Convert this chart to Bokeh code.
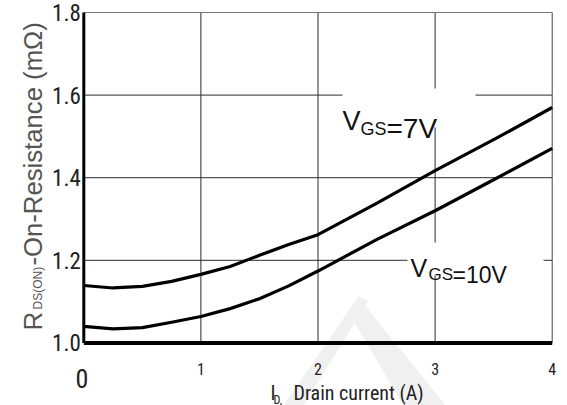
import math

from bokeh.plotting import figure
from bokeh.models import Range1d, Label, BoxAnnotation
from bokeh.core.properties import value
from bokeh.embed import file_html
from bokeh.resources import INLINE

# Drain current (A) and on-resistance (mOhm) for two gate voltages
drain_current = [0.0, 0.25, 0.5, 0.75, 1.0, 1.25, 1.5, 1.75, 2.0, 2.5, 3.0, 3.5, 4.0]
rds_vgs7 = [1.139, 1.133, 1.137, 1.149, 1.166, 1.185, 1.212, 1.238, 1.262, 1.338, 1.417, 1.492, 1.570]
rds_vgs10 = [1.040, 1.034, 1.037, 1.050, 1.064, 1.083, 1.107, 1.138, 1.174, 1.250, 1.320, 1.395, 1.471]

x_ticks = [0, 1, 2, 3, 4]
x_tick_labels = ["0", "1", "2", "3", "4"]
y_ticks = [1.0, 1.2, 1.4, 1.6, 1.8]
y_tick_labels = ["1.0", "1.2", "1.4", "1.6", "1.8"]

W, H = 567, 405
X_MIN, X_MAX, Y_MIN, Y_MAX = 0.0, 4.0, 1.0, 1.8
# where the data box sits on the page (pixels)
BOX_L, BOX_R, BOX_T, BOX_B = 83.3, 551.7, 12.0, 342.4
SX = (BOX_R - BOX_L) / (X_MAX - X_MIN)
SY = (BOX_B - BOX_T) / (Y_MAX - Y_MIN)

SANS = "Liberation Sans"
NARROW = "Liberation Sans Narrow, Roboto Condensed, DejaVu Sans Condensed, Liberation Sans, sans-serif"


def xd(px):
    """Page x pixel -> data x."""
    return X_MIN + (px - BOX_L) / SX


def yd(py):
    """Page y pixel -> data y."""
    return Y_MIN + (BOX_B - py) / SY


# the frame covers the whole page so the titles around the box can be drawn freely
p = figure(width=W, height=H, output_backend="svg", toolbar_location=None,
           x_range=Range1d(xd(0), xd(W)), y_range=Range1d(yd(H), yd(0)),
           x_axis_location=None, y_axis_location=None,
           min_border_left=0, min_border_right=0, min_border_top=0, min_border_bottom=0)
p.background_fill_color = "white"
p.border_fill_color = "white"
p.outline_line_color = None
p.grid.visible = False

# faint background watermark strokes
p.patches(xs=[[xd(283), xd(303), xd(368), xd(358)], [xd(347), xd(362), xd(445), xd(403)]],
          ys=[[yd(405), yd(405), yd(300), yd(296)], [yd(310), yd(302), yd(405), yd(405)]],
          fill_color="#f0f0f0", line_color=None, level="image")

# grid lines at the inner ticks
inner_x = x_ticks[1:-1]
inner_y = y_ticks[1:-1]
p.segment(x0=inner_x, y0=[Y_MIN] * len(inner_x), x1=inner_x, y1=[Y_MAX] * len(inner_x),
          line_color="#2a2a2a", line_width=1)
p.segment(x0=[X_MIN] * len(inner_y), y0=inner_y, x1=[X_MAX] * len(inner_y), y1=inner_y,
          line_color="#2a2a2a", line_width=1)
# box edges: thin top / right, heavy left / bottom axis lines
p.segment(x0=[X_MIN], y0=[Y_MAX], x1=[X_MAX], y1=[Y_MAX], line_color="#777777", line_width=1)
p.segment(x0=[X_MAX], y0=[Y_MIN], x1=[X_MAX], y1=[Y_MAX], line_color="#444444", line_width=1)

# white backing behind the curve labels
p.add_layout(BoxAnnotation(left=xd(342), right=xd(475), top=yd(88), bottom=yd(127),
                           fill_color="white", fill_alpha=1.0, line_color=None, level="glyph"))
p.add_layout(BoxAnnotation(left=xd(407), right=xd(543), top=yd(242), bottom=yd(275),
                           fill_color="white", fill_alpha=1.0, line_color=None, level="glyph"))

# curves
p.line(drain_current, rds_vgs7, line_width=3.2, line_color="black", line_join="round")
p.line(drain_current, rds_vgs10, line_width=3.2, line_color="black", line_join="round")

p.segment(x0=[X_MIN], y0=[Y_MIN], x1=[X_MIN], y1=[Y_MAX], line_color="black", line_width=3)
p.segment(x0=[X_MIN], y0=[Y_MIN], x1=[X_MAX], y1=[Y_MIN], line_color="black", line_width=4)

# tick labels
p.text(x=[X_MIN] * len(y_ticks), y=y_ticks, text=y_tick_labels, x_offset=-3,
       text_align="right", text_baseline="middle", text_font=value(NARROW),
       text_font_size="23px", text_color="#222222")
p.text(x=x_ticks[1:], y=[yd(368)] * (len(x_ticks) - 1), text=x_tick_labels[1:],
       text_align="center", text_baseline="alphabetic", text_font=value(NARROW),
       text_font_size="16px", text_color="#222222")
p.text(x=x_ticks[:1], y=[yd(378)], text=x_tick_labels[:1], x_offset=-2,
       text_align="center", text_baseline="alphabetic", text_font=value(NARROW),
       text_font_size="26px", text_color="#222222")


def add_text(txt, px, py, size, font=SANS, color="#111111", angle=0.0, align="left"):
    p.add_layout(Label(x=xd(px), y=yd(py), text=txt, text_font=font,
                       text_font_size=f"{size}px", text_color=color,
                       text_align=align, text_baseline="alphabetic", angle=angle))


# curve labels
add_text("V", 342, 120, 27)
add_text("GS", 360, 128, 18)
add_text("=7V", 386, 128, 28)

add_text("V", 410, 267, 25)
add_text("GS", 428, 274, 17)
add_text("=10V", 452, 274, 23)

# x axis title
add_text("I", 270, 392, 20, font=NARROW, color="#222222")
add_text("D,", 273, 399, 12, font=NARROW, color="#222222")
add_text("Drain current (A)", 293, 392, 20, font=NARROW, color="#222222")

# y axis title (rotated)
ROT = math.pi / 2
add_text("R", 32, 330, 26, color="#555555", angle=ROT)
add_text("DS(ON)", 37, 309, 12, color="#555555", angle=ROT)
add_text("-On-Resistance (m\u03a9)", 32, 265, 25.7, color="#555555", angle=ROT)

open("out.html", "w").write(file_html(p, INLINE))
